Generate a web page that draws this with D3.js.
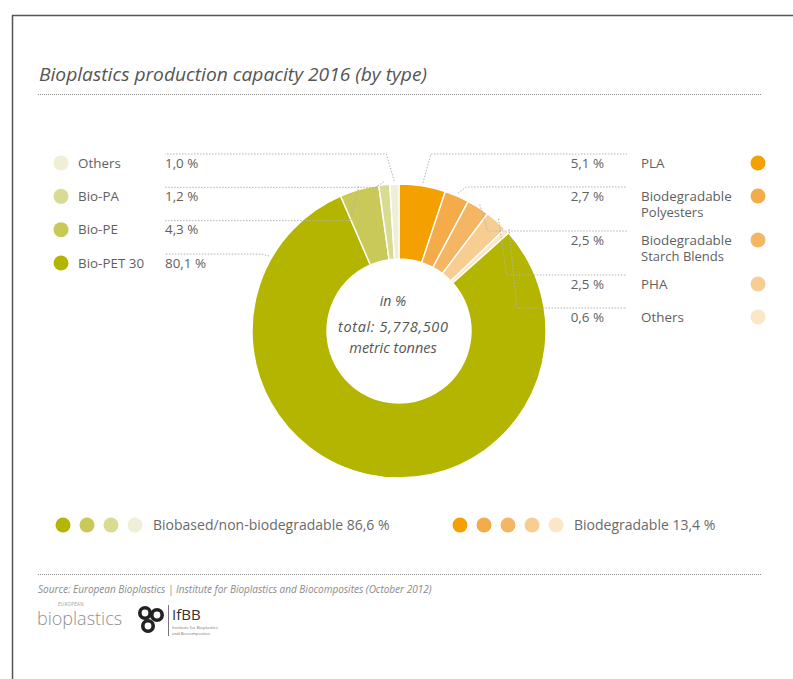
<!DOCTYPE html>
<html>
<head>
<meta charset="utf-8">
<script src="https://cdn.jsdelivr.net/npm/d3@7/dist/d3.min.js"></script>
<style>
  html, body { margin: 0; padding: 0; background: #fff; }
  svg { display: block; }
  text { font-family: "Open Sans", "DejaVu Sans", sans-serif; }
</style>
</head>
<body>
<svg id="chart" width="793" height="679"></svg>
<script>
// Bioplastics production capacity 2016, share by material type (%)
const biodegradableTypes  = ["PLA", "Biodegradable Polyesters", "Biodegradable Starch Blends", "PHA", "Others"];
const biodegradableShares = [5.1, 2.7, 2.5, 2.5, 0.6];
const biobasedTypes       = ["Others", "Bio-PA", "Bio-PE", "Bio-PET 30"];
const biobasedShares      = [1.0, 1.2, 4.3, 80.1];
const groupNames          = ["Biobased/non-biodegradable", "Biodegradable"];
const groupTotals         = [86.6, 13.4];
const totalTonnes         = 5778500;

const biodegradableColors = ["#f3a000", "#f4ab4a", "#f5b664", "#f8cd91", "#fbe7c6"];
const biobasedColors      = ["#efefd6", "#dadb92", "#c9c95a", "#b4b500"];

const fmtPct = v => d3.format(".1f")(v).replace(".", ",") + " %";
const fmtTotal = v => d3.format(",")(v);

const svg = d3.select("#chart");

// page frame (top and left rule)
svg.append("path")
  .attr("d", "M12.5,679 V15.5 H793")
  .attr("fill", "none").attr("stroke", "#555").attr("stroke-width", 1.5);

// title + dotted rule
svg.append("text")
  .attr("x", 39).attr("y", 81)
  .attr("font-size", 18).attr("font-style", "italic")
  .attr("textLength", 388).attr("lengthAdjust", "spacingAndGlyphs")
  .attr("fill", "#555")
  .text("Bioplastics production capacity 2016 (by type)");

const dotted = (y, col, dash) => svg.append("line")
  .attr("x1", 38).attr("x2", 762).attr("y1", y).attr("y2", y)
  .attr("stroke", col).attr("stroke-width", 1.2).attr("stroke-dasharray", dash);
dotted(94.5, "#8a8a8a", "1,1");
dotted(574.5, "#8a8a8a", "1,1");

// ---- donut ----
const cx = 399, cy = 331, R = 147, r0 = 72;

// clockwise from 12 o'clock: biodegradable first, then biobased (largest first)
const slices = [
  ...biodegradableTypes.map((t, i) => ({ name: t, value: biodegradableShares[i], color: biodegradableColors[i], side: "right", idx: i })),
  ...biobasedTypes.map((t, i) => ({ name: t, value: biobasedShares[i], color: biobasedColors[i], side: "left", idx: i })).reverse()
];

const pie = d3.pie().value(d => d.value).sort(null);
const arcs = pie(slices);
const arc = d3.arc().innerRadius(r0).outerRadius(R);

const g = svg.append("g").attr("transform", `translate(${cx},${cy})`);
g.selectAll("path.slice").data(arcs).join("path")
  .attr("class", "slice")
  .attr("d", arc)
  .attr("fill", d => d.data.color)
  .attr("stroke", "#fff").attr("stroke-width", 1.4);

// centre caption
const cap = svg.append("g").attr("font-style", "italic").attr("fill", "#555")
  .attr("text-anchor", "middle");
cap.append("text").attr("x", cx - 6).attr("y", cy - 25).attr("font-size", 14).text("in %");
cap.append("text").attr("x", cx - 6).attr("y", cy + 1).attr("font-size", 14.5)
  .attr("textLength", 110).attr("lengthAdjust", "spacing").text("total: " + fmtTotal(totalTonnes));
cap.append("text").attr("x", cx - 6).attr("y", cy + 22).attr("font-size", 14.5).text("metric tonnes");

// ---- side labels ----
const leftRow = d3.scalePoint().domain(biobasedTypes).range([163, 263]);
const splitName = n => (n.indexOf(" ") > 0 && n.length > 12) ? [n.slice(0, n.indexOf(" ")), n.slice(n.indexOf(" ") + 1)] : [n];

const rightRows = [];
let yCursor = 163;
biodegradableTypes.forEach(n => {
  rightRows.push(yCursor);
  yCursor += 33 + (splitName(n).length - 1) * 11;
});

const labelFont = 13.4, labelCol = "#5f5f5f";

// left column
biobasedTypes.forEach((n, i) => {
  const y = leftRow(n);
  svg.append("circle").attr("cx", 61).attr("cy", y).attr("r", 7.5).attr("fill", biobasedColors[i]);
  svg.append("text").attr("x", 78).attr("y", y).attr("dy", "0.36em")
    .attr("font-size", labelFont).attr("fill", labelCol).text(n);
  svg.append("text").attr("x", 165).attr("y", y).attr("dy", "0.36em")
    .attr("font-size", labelFont).attr("fill", labelCol).text(fmtPct(biobasedShares[i]));
});

// right column (long names wrap onto a second line)
biodegradableTypes.forEach((n, i) => {
  const y = rightRows[i];
  svg.append("circle").attr("cx", 758).attr("cy", y).attr("r", 7.5).attr("fill", biodegradableColors[i]);
  svg.append("text").attr("x", 604).attr("y", y).attr("dy", "0.36em").attr("text-anchor", "end")
    .attr("font-size", labelFont).attr("fill", labelCol).text(fmtPct(biodegradableShares[i]));
  splitName(n).forEach((part, k) => {
    svg.append("text").attr("x", 641).attr("y", y + k * 16.5).attr("dy", "0.36em")
      .attr("font-size", k === 0 ? labelFont : labelFont - 0.4).attr("fill", labelCol).text(part);
  });
});

// ---- leader lines ----
// where along a slice a leader attaches (0 = start angle, 1 = end angle)
const attachAt = { "Bio-PET 30": 0.873 };
const leaders = svg.append("g").attr("fill", "none")
  .attr("stroke", "#b3b3b3").attr("stroke-width", 1).attr("stroke-dasharray", "1.5,1.5");

arcs.forEach(a => {
  const d = a.data;
  const f = attachAt[d.name] !== undefined && d.side === "left" ? attachAt[d.name] : 0.5;
  const ang = a.startAngle + (a.endAngle - a.startAngle) * f;
  const ax = cx + (R + 3) * Math.sin(ang);
  const ay = cy - (R + 3) * Math.cos(ang);
  let rowY, ex, elbowX;
  if (d.side === "right") {
    rowY = rightRows[d.idx] - 9;
    elbowX = ax + 8; ex = 627;
  } else {
    rowY = leftRow(d.name) - 9;
    elbowX = ax - 8; ex = 165;
  }
  leaders.append("path")
    .attr("d", d3.line()([[ax, ay], [elbowX, rowY], [ex, rowY]]));
});

// ---- group legend ----
const groupColors = [biobasedColors.slice().reverse(), biodegradableColors];
const groupX = [63, 460];
groupNames.forEach((gname, gi) => {
  const cols = groupColors[gi];
  cols.forEach((c, k) => {
    svg.append("circle").attr("cx", groupX[gi] + k * 24).attr("cy", 525).attr("r", 7.5).attr("fill", c);
  });
  svg.append("text")
    .attr("x", groupX[gi] + (cols.length - 1) * 24 + 18).attr("y", 525).attr("dy", "0.36em")
    .attr("font-size", 14).attr("fill", "#6a6a6a")
    .text(gname + " " + fmtPct(groupTotals[gi]));
});

// ---- source + logos ----
svg.append("text").attr("x", 38).attr("y", 593)
  .attr("font-size", 10).attr("font-style", "italic").attr("fill", "#8a8a8a")
  .text("Source: European Bioplastics | Institute for Bioplastics and Biocomposites (October 2012)");

svg.append("text").attr("x", 58).attr("y", 606).attr("font-size", 4.5).attr("fill", "#999")
  .attr("letter-spacing", 0.3).text("EUROPEAN");
svg.append("text").attr("x", 37).attr("y", 625).attr("font-size", 18).attr("fill", "#8f8f8f")
  .attr("font-weight", 300).text("bioplastics");

const knot = svg.append("g").attr("fill", "none").attr("stroke", "#222").attr("stroke-width", 3.6);
knot.append("circle").attr("cx", 145).attr("cy", 613).attr("r", 5.2);
knot.append("circle").attr("cx", 157).attr("cy", 615).attr("r", 5.2);
knot.append("circle").attr("cx", 148).attr("cy", 626).attr("r", 5.2);
svg.append("line").attr("x1", 168.5).attr("x2", 168.5).attr("y1", 605).attr("y2", 636)
  .attr("stroke", "#777").attr("stroke-width", 1);
svg.append("text").attr("x", 172).attr("y", 620).attr("font-size", 15).attr("fill", "#333").text("IfBB");
svg.append("text").attr("x", 172).attr("y", 629).attr("font-size", 4.3).attr("fill", "#777").text("Institute for Bioplastics");
svg.append("text").attr("x", 172).attr("y", 634.5).attr("font-size", 4.3).attr("fill", "#777").text("and Biocomposites");
</script>
</body>
</html>
